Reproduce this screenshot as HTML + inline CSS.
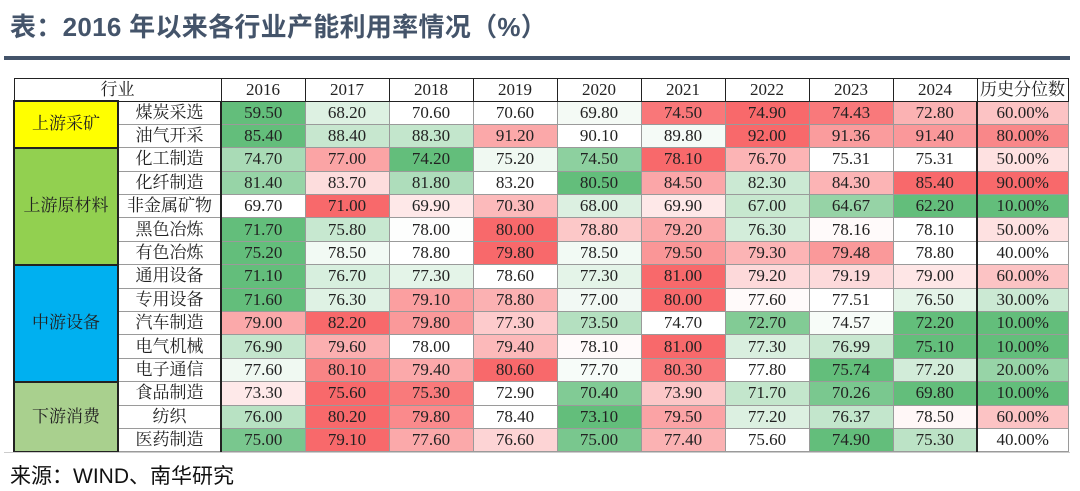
<!DOCTYPE html>
<html><head><meta charset="utf-8">
<style>
html,body{margin:0;padding:0;background:#fff;width:1080px;height:491px;overflow:hidden;position:relative;font-family:"Liberation Serif","Noto Serif CJK SC",serif;}
#title{position:absolute;left:10px;top:7px;font:bold 26px "Liberation Sans","Noto Sans CJK SC",sans-serif;color:#44546A;letter-spacing:0.3px;white-space:nowrap;}
#rule{position:absolute;left:4px;top:56px;width:1066px;height:4px;background:#44546A;}
#tbl{position:absolute;left:13px;top:78px;border-collapse:collapse;table-layout:fixed;font-size:17px;color:#222;}
#tbl td{height:22.4px;padding:0;text-align:center;border:1px solid #9a9a9a;white-space:nowrap;line-height:20px;overflow:hidden;}
#tbl tr.hdr td{height:21px;border:1px solid #222;background:#fff;}
#tbl td.cat{border:2px solid #222;}
#tbl td.ind{border-left:2px solid #222;border-right:2px solid #222;background:#fff;}
#tbl td.pct{border-left:2px solid #222;}
#src{position:absolute;left:10px;top:460px;font:21px "Liberation Sans","Noto Sans CJK SC",sans-serif;color:#111;white-space:nowrap;}
#uline{position:absolute;left:4px;top:452px;width:1066px;height:1px;background:#ccc;}
</style></head>
<body>
<div id="title">表：2016 年以来各行业产能利用率情况（%）</div>
<div id="rule"></div>
<table id="tbl">
<colgroup><col style="width:104px"><col style="width:103px"><col style="width:84px"><col style="width:84px"><col style="width:84px"><col style="width:84px"><col style="width:84px"><col style="width:84px"><col style="width:84px"><col style="width:84px"><col style="width:84px"><col style="width:91px"></colgroup>
<tbody id="tb"></tbody>
</table>
<div id="uline"></div>
<div id="src">来源：WIND、南华研究</div>
<script>
const years = ["2016","2017","2018","2019","2020","2021","2022","2023","2024"];
const industries = ["煤炭采选","油气开采","化工制造","化纤制造","非金属矿物","黑色冶炼","有色冶炼","通用设备","专用设备","汽车制造","电气机械","电子通信","食品制造","纺织","医药制造"];
const groups = ["上游采矿","上游原材料","中游设备","下游消费"];
const groupSpans = [2,5,5,3];
const groupColors = ["#FFFF00","#92D050","#00B0F0","#A9D08E"];
const values = [
[59.50,68.20,70.60,70.60,69.80,74.50,74.90,74.43,72.80],
[85.40,88.40,88.30,91.20,90.10,89.80,92.00,91.36,91.40],
[74.70,77.00,74.20,75.20,74.50,78.10,76.70,75.31,75.31],
[81.40,83.70,81.80,83.20,80.50,84.50,82.30,84.30,85.40],
[69.70,71.00,69.90,70.30,68.00,69.90,67.00,64.67,62.20],
[71.70,75.80,78.00,80.00,78.80,79.20,76.30,78.16,78.10],
[75.20,78.50,78.80,79.80,78.50,79.50,79.30,79.48,78.80],
[71.10,76.70,77.30,78.60,77.30,81.00,79.20,79.19,79.00],
[71.60,76.30,79.10,78.80,77.00,80.00,77.60,77.51,76.50],
[79.00,82.20,79.80,77.30,73.50,74.70,72.70,74.57,72.20],
[76.90,79.60,78.00,79.40,78.10,81.00,77.30,76.99,75.10],
[77.60,80.10,79.40,80.60,77.70,80.30,77.80,75.74,77.20],
[73.30,75.60,75.30,72.90,70.40,73.90,71.70,70.26,69.80],
[76.00,80.20,79.80,78.40,73.10,79.50,77.20,76.37,78.50],
[75.00,79.10,77.60,76.60,75.00,77.40,75.60,74.90,75.30]];
const percentiles = [60,80,50,90,10,50,40,60,30,10,10,20,10,60,40];

function median(a){const s=[...a].sort((x,y)=>x-y);const n=s.length;return n%2?s[(n-1)/2]:(s[n/2-1]+s[n/2])/2;}
function mix(c1,c2,t){return 'rgb('+c1.map((v,i)=>Math.round(v+(c2[i]-v)*t)).join(',')+')';}
const G=[99,190,123],W=[255,255,255],R=[248,105,107];
function scale(v,arr){const mn=Math.min(...arr),mx=Math.max(...arr),md=median(arr);
  if(v<=md){const t=md===mn?0:(md-v)/(md-mn);return mix(W,G,t);} const t=mx===md?0:(v-md)/(mx-md);return mix(W,R,t);}

const tb=document.getElementById('tb');
const hr=document.createElement('tr');hr.className='hdr';


const h0=document.createElement('td');h0.colSpan=2;h0.textContent='行业';


hr.appendChild(h0);
years.forEach(y=>{const td=document.createElement('td');td.textContent=y;


hr.appendChild(td);});
const hp=document.createElement('td');hp.textContent='历史分位数';


hr.appendChild(hp);
tb.appendChild(hr);

let gi=0,gstart=0;
industries.forEach((ind,r)=>{
  const tr=document.createElement('tr');
  
  
  if(r===gstart){
    const c=document.createElement('td');c.className='cat';c.rowSpan=groupSpans[gi];
    c.style.background=groupColors[gi];c.textContent=groups[gi];
    
    
    tr.appendChild(c);
    gstart+=groupSpans[gi];gi++;
  }
  const ic=document.createElement('td');ic.className='ind';ic.textContent=ind;
  
  
  tr.appendChild(ic);
  values[r].forEach((v,c)=>{
    const td=document.createElement('td');td.textContent=v.toFixed(2);
    td.style.background=scale(v,values[r]);
    
    
    tr.appendChild(td);
  });
  const pc=document.createElement('td');pc.className='pct';pc.textContent=percentiles[r].toFixed(2)+'%';
  pc.style.background=scale(percentiles[r],percentiles);
  
  
  tr.appendChild(pc);
  tb.appendChild(tr);
});
</script>
</body></html>
